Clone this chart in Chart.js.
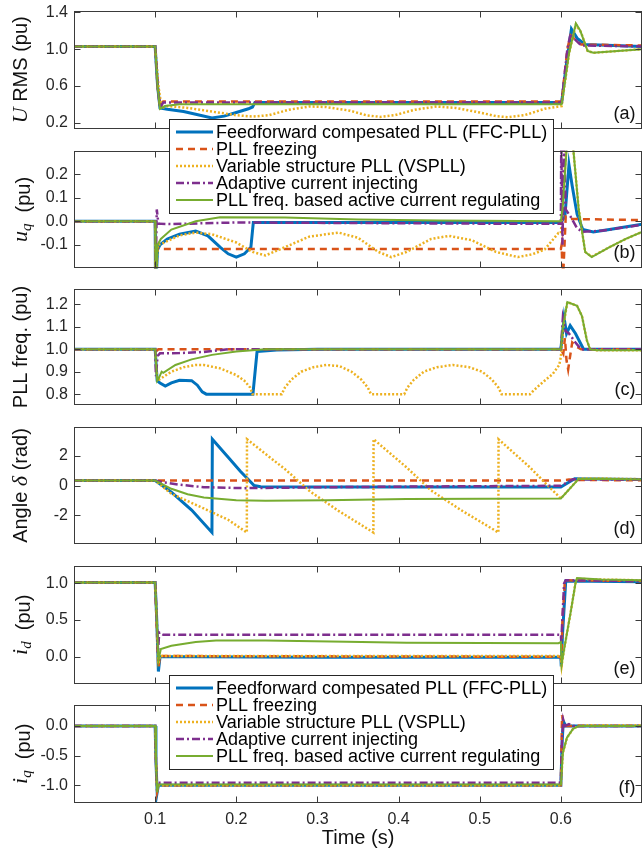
<!DOCTYPE html>
<html>
<head>
<meta charset="utf-8">
<script src="https://cdn.jsdelivr.net/npm/chart.js@4.4.1/dist/chart.umd.min.js"></script>
<style>
html, body { margin: 0; padding: 0; background: #fff; }
#fig { position: relative; width: 643px; height: 852px; overflow: hidden; background: #fff; }
#fig canvas { position: absolute; left: 0; }
</style>
</head>
<body>
<div id="fig"></div>
<script>
// ---- data: [time (s), value] ----
const seriesNames = ['Feedforward compesated PLL (FFC-PLL)', 'PLL freezing', 'Variable structure PLL (VSPLL)',
  'Adaptive current injecting', 'PLL freq. based active current regulating'];
const timeTicks = [0.1, 0.2, 0.3, 0.4, 0.5, 0.6];

// (a) U RMS
const rmsFFC = [[0,1.03],[0.1,1.03],[0.103,0.6],[0.106,0.36],[0.115,0.345],[0.135,0.32],[0.15,0.29],[0.17,0.25],[0.185,0.27],[0.2,0.31],[0.215,0.35],[0.22,0.37],[0.223,0.42],[0.601,0.42],[0.607,0.85],[0.613,1.22],[0.62,1.12],[0.63,1.05],[0.7,1.03]];
const rmsFrz = [[0,1.03],[0.1,1.03],[0.103,0.6],[0.106,0.37],[0.11,0.43],[0.601,0.43],[0.608,1.0],[0.612,1.15],[0.618,1.1],[0.625,1.05],[0.7,1.04]];
const rmsVS  = [[0,1.03],[0.1,1.03],[0.104,0.6],[0.108,0.36],[0.115,0.38],[0.14,0.36],[0.17,0.32],[0.2,0.28],[0.22,0.265],[0.24,0.28],[0.265,0.34],[0.29,0.375],[0.31,0.37],[0.34,0.33],[0.36,0.28],[0.377,0.262],[0.395,0.28],[0.42,0.34],[0.447,0.375],[0.47,0.36],[0.5,0.31],[0.52,0.27],[0.535,0.258],[0.555,0.28],[0.58,0.35],[0.601,0.38],[0.61,0.95],[0.6185,1.27],[0.625,1.18],[0.633,0.98],[0.64,0.96],[0.67,0.98],[0.7,1.0]];
const rmsAdp = [[0,1.03],[0.1,1.03],[0.103,0.6],[0.106,0.36],[0.11,0.42],[0.601,0.42],[0.608,1.0],[0.612,1.17],[0.618,1.1],[0.625,1.04],[0.7,1.03]];
const rmsReg = [[0,1.03],[0.1,1.03],[0.103,0.6],[0.106,0.35],[0.112,0.38],[0.13,0.4],[0.601,0.4],[0.61,0.95],[0.6185,1.28],[0.624,1.2],[0.633,0.98],[0.64,0.96],[0.67,0.98],[0.7,1.0]];

// (b) u_q
const uqFFC = [[0,0],[0.1,0],[0.1005,-0.3],[0.103,-0.12],[0.106,-0.1],[0.115,-0.075],[0.13,-0.055],[0.15,-0.042],[0.165,-0.062],[0.18,-0.11],[0.19,-0.138],[0.2,-0.152],[0.21,-0.138],[0.218,-0.11],[0.221,-0.005],[0.6,-0.005],[0.605,0.02],[0.61,0.24],[0.614,0.15],[0.62,0.03],[0.627,-0.035],[0.64,-0.045],[0.66,-0.035],[0.7,-0.012]];
const uqFrz = [[0,0],[0.1,0],[0.1005,-0.25],[0.103,-0.11],[0.106,-0.118],[0.6,-0.118],[0.601,-0.1],[0.6015,-0.16],[0.603,-0.22],[0.6045,-0.1],[0.606,0.02],[0.612,0.01],[0.7,0.005]];
const uqVS  = [[0,0],[0.1,0],[0.1005,-0.3],[0.103,-0.1],[0.1075,-0.096],[0.13,-0.06],[0.15,-0.048],[0.17,-0.055],[0.2,-0.09],[0.22,-0.13],[0.236,-0.145],[0.26,-0.11],[0.29,-0.065],[0.326,-0.048],[0.35,-0.07],[0.375,-0.13],[0.391,-0.152],[0.41,-0.13],[0.44,-0.075],[0.462,-0.062],[0.49,-0.08],[0.52,-0.13],[0.547,-0.152],[0.565,-0.14],[0.58,-0.12],[0.597,-0.05],[0.6,-0.05],[0.603,0.1],[0.608,0.4],[0.613,0.4],[0.6155,0.3],[0.622,0.05],[0.63,-0.13],[0.638,-0.15],[0.66,-0.11],[0.68,-0.075],[0.7,-0.045]];
const uqAdp = [[0,0],[0.1,0],[0.1005,-0.25],[0.102,0.05],[0.104,-0.01],[0.12,-0.012],[0.2,-0.005],[0.5,-0.01],[0.6,-0.01],[0.6005,0.35],[0.602,-0.1],[0.604,0.35],[0.606,0.05],[0.612,0.02],[0.62,-0.03],[0.627,-0.045],[0.65,-0.04],[0.7,-0.015]];
const uqReg = [[0,0],[0.1,0],[0.1005,-0.3],[0.103,-0.1],[0.107,-0.075],[0.12,-0.035],[0.15,0],[0.18,0.017],[0.26,0.016],[0.35,0.008],[0.45,0.003],[0.6,0],[0.602,0.05],[0.609,0.4],[0.613,0.4],[0.6155,0.3],[0.622,0.05],[0.63,-0.13],[0.638,-0.152],[0.66,-0.11],[0.68,-0.075],[0.7,-0.045]];

// (c) PLL frequency
const frqFFC = [[0,1],[0.1,1],[0.1025,0.86],[0.106,0.85],[0.1125,0.836],[0.12,0.85],[0.13,0.862],[0.145,0.86],[0.152,0.84],[0.158,0.81],[0.163,0.8],[0.2205,0.8],[0.2256,0.99],[0.25,0.997],[0.3,1.0],[0.6,1.0],[0.604,1.14],[0.607,1.07],[0.6115,1.105],[0.618,1.07],[0.628,1.0],[0.7,1.0]];
const frqFrz = [[0,1],[0.1,1],[0.101,0.99],[0.104,1.0],[0.6,1.0],[0.603,0.98],[0.605,1.05],[0.607,0.95],[0.609,0.91],[0.611,0.96],[0.614,1.03],[0.62,1.01],[0.625,1.0],[0.7,1.0]];
const frqVS  = [[0,1],[0.1,1],[0.1025,0.87],[0.105,0.865],[0.12,0.9],[0.135,0.92],[0.15,0.93],[0.16,0.93],[0.18,0.915],[0.2,0.885],[0.21,0.86],[0.217,0.83],[0.22,0.8],[0.256,0.8],[0.26,0.83],[0.268,0.865],[0.28,0.9],[0.295,0.92],[0.311,0.93],[0.327,0.925],[0.342,0.9],[0.354,0.865],[0.362,0.83],[0.366,0.8],[0.407,0.8],[0.411,0.83],[0.419,0.865],[0.431,0.9],[0.447,0.92],[0.467,0.93],[0.487,0.92],[0.503,0.9],[0.515,0.865],[0.523,0.83],[0.527,0.8],[0.562,0.8],[0.566,0.815],[0.572,0.835],[0.58,0.86],[0.59,0.89],[0.598,0.93],[0.6,0.966],[0.603,1.1],[0.608,1.21],[0.62,1.193],[0.626,1.148],[0.632,1.04],[0.636,1.0],[0.645,0.995],[0.7,0.995]];
const frqAdp = [[0,1],[0.1,1],[0.101,0.88],[0.103,0.97],[0.106,0.982],[0.13,0.983],[0.16,0.988],[0.19,1.0],[0.6,1.0],[0.6025,1.14],[0.606,1.08],[0.61,1.07],[0.618,1.03],[0.625,1.0],[0.7,1.0]];
const frqReg = [[0,1],[0.1,1],[0.1025,0.86],[0.105,0.875],[0.108,0.9],[0.11,0.895],[0.125,0.93],[0.145,0.955],[0.17,0.975],[0.2,0.99],[0.236,1.0],[0.6,1.0],[0.6025,1.1],[0.608,1.21],[0.62,1.193],[0.626,1.148],[0.632,1.04],[0.636,1.0],[0.645,0.995],[0.7,0.995]];

// (d) angle delta
const angFFC = [[0,0.33],[0.1,0.33],[0.12,-0.44],[0.145,-1.65],[0.17,-3.15],[0.1705,3.1],[0.19,1.9],[0.205,0.95],[0.216,0.33],[0.222,0.0],[0.23,-0.08],[0.3,-0.1],[0.6,-0.1],[0.617,0.45],[0.7,0.4]];
const angFrz = [[0,0.33],[0.6,0.33],[0.61,0.4],[0.62,0.37],[0.7,0.35]];
const angVS  = [[0,0.33],[0.1,0.33],[0.12,-0.55],[0.16,-1.54],[0.19,-2.3],[0.213,-3.15],[0.2132,3.1],[0.261,1.05],[0.291,-0.4],[0.326,-1.7],[0.369,-3.15],[0.3692,3.1],[0.41,1.21],[0.44,-0.33],[0.477,-1.65],[0.523,-3.15],[0.5232,3.1],[0.562,1.21],[0.582,0.1],[0.6,-0.87],[0.622,0.46],[0.65,0.47],[0.7,0.42]];
const angAdp = [[0,0.33],[0.1,0.33],[0.11,0.22],[0.13,0.05],[0.16,-0.11],[0.21,-0.18],[0.3,-0.12],[0.45,-0.06],[0.6,-0.02],[0.615,0.42],[0.7,0.38]];
const angReg = [[0,0.33],[0.1,0.33],[0.12,-0.22],[0.14,-0.59],[0.16,-0.81],[0.2,-0.99],[0.236,-1.03],[0.311,-0.99],[0.41,-0.9],[0.6,-0.87],[0.622,0.44],[0.65,0.45],[0.7,0.4]];

// (e) i_d
const idFFC = [[0,1.01],[0.1,1.01],[0.102,0.5],[0.104,-0.2],[0.106,0.0],[0.15,0.0],[0.3,-0.005],[0.6,-0.005],[0.6005,-0.13],[0.602,0.3],[0.606,1.03],[0.7,1.02]];
const idFrz = [[0,1.01],[0.1,1.01],[0.102,0.4],[0.104,-0.15],[0.106,0.01],[0.6,0.0],[0.6005,-0.1],[0.602,0.5],[0.605,1.04],[0.7,1.03]];
const idVS  = [[0,1.01],[0.1,1.01],[0.102,0.5],[0.104,-0.1],[0.106,0.01],[0.6,0.01],[0.601,-0.12],[0.604,0.1],[0.612,0.6],[0.618,1.0],[0.62,1.06],[0.65,1.05],[0.7,1.04]];
const idAdp = [[0,1.01],[0.1,1.01],[0.102,0.5],[0.1035,0.05],[0.105,0.33],[0.11,0.3],[0.6,0.3],[0.6005,0.2],[0.604,1.0],[0.606,1.04],[0.7,1.03]];
const idReg = [[0,1.01],[0.1,1.01],[0.102,0.5],[0.104,-0.05],[0.107,0.107],[0.12,0.15],[0.15,0.2],[0.175,0.22],[0.236,0.22],[0.336,0.205],[0.41,0.19],[0.597,0.185],[0.6,0.2],[0.601,-0.1],[0.604,0.1],[0.612,0.6],[0.618,1.0],[0.62,1.07],[0.65,1.05],[0.7,1.04]];

// (f) i_q
const iqFFC = [[0,0],[0.1,0],[0.101,-0.6],[0.1025,-1.12],[0.104,-1.0],[0.6,-1.0],[0.6015,-0.3],[0.603,0.08],[0.606,0.0],[0.7,0.0]];
const iqFrz = [[0,0],[0.1,0],[0.101,-0.6],[0.1025,-1.1],[0.104,-1.0],[0.6,-1.0],[0.601,-0.2],[0.6015,0.18],[0.603,0.05],[0.606,0.0],[0.7,0.0]];
const iqVS  = [[0,0],[0.1,0],[0.101,-0.6],[0.1025,-1.1],[0.104,-1.0],[0.6,-1.0],[0.6025,-0.45],[0.6075,-0.2],[0.615,-0.05],[0.6226,0.01],[0.7,0.01]];
const iqAdp = [[0,0],[0.1,0],[0.101,-0.6],[0.1025,-1.1],[0.104,-0.96],[0.6,-0.96],[0.6015,-0.2],[0.603,0.1],[0.605,0.0],[0.61,0.03],[0.615,0.0],[0.7,0.0]];
const iqReg = [[0,0],[0.1,0],[0.101,-0.6],[0.1025,-1.12],[0.104,-0.99],[0.6,-0.99],[0.6025,-0.45],[0.6075,-0.2],[0.615,-0.05],[0.6226,0.0],[0.7,0.0]];

// y tick labels per panel
const ticksRms = [0.2, 0.6, 1.0, 1.4];
const ticksUq  = [-0.1, 0.0, 0.1, 0.2];
const ticksFrq = [0.8, 0.9, 1.0, 1.1, 1.2];
const ticksAng = [-2, 0, 2];
const ticksId  = [0.0, 0.5, 1.0];
const ticksIq  = [-1.0, -0.5, 0.0];

// ---- styling ----
const SANS = '"Liberation Sans", Arial, sans-serif';
const SERIF = '"Liberation Serif", "Times New Roman", serif';
const styles = [
  { borderColor: '#0072BD', borderWidth: 3, borderDash: [] },
  { borderColor: '#D95319', borderWidth: 2.5, borderDash: [7, 5] },
  { borderColor: '#EDB120', borderWidth: 2.5, borderDash: [2, 2] },
  { borderColor: '#7E2F8E', borderWidth: 2.5, borderDash: [8, 3, 2, 3] },
  { borderColor: '#77AC30', borderWidth: 2, borderDash: [] }
];

const sansF = '20px ' + SANS;
const mathF = 'italic 22px ' + SERIF;
const subF = 'italic 15px ' + SERIF;

const panels = [
  { top: 9, bottom: 129, min: 0.13, max: 1.42, ticks: ticksRms, dec: 1, data: [rmsFFC, rmsFrz, rmsVS, rmsAdp, rmsReg], tag: '(a)',
    label: [{ t: 'U', f: mathF }, { t: ' RMS (pu)', f: sansF }], labelX: 27, legend: { x: 169, y: 119, w: 384, h: 94 }, z: 6, end: 216 },
  { top: 149, bottom: 270, min: -0.2, max: 0.3, ticks: ticksUq, dec: 1, data: [uqFFC, uqFrz, uqVS, uqAdp, uqReg], tag: '(b)',
    label: [{ t: 'u', f: mathF, dy: -3 }, { t: 'q', f: subF, dy: 1 }, { t: '  (pu)', f: sansF }], labelX: 30, z: 1 },
  { top: 287, bottom: 407, min: 0.75, max: 1.27, ticks: ticksFrq, dec: 1, data: [frqFFC, frqFrz, frqVS, frqAdp, frqReg], tag: '(c)',
    label: [{ t: 'PLL freq. (pu)', f: sansF }], labelX: 27, z: 2 },
  { top: 425, bottom: 546, min: -3.95, max: 3.95, ticks: ticksAng, dec: 0, data: [angFFC, angFrz, angVS, angAdp, angReg], tag: '(d)',
    label: [{ t: 'Angle ', f: sansF }, { t: 'δ', f: mathF }, { t: ' (rad)', f: sansF }], labelX: 27, z: 3 },
  { top: 564, bottom: 684, min: -0.37, max: 1.24, ticks: ticksId, dec: 1, data: [idFFC, idFrz, idVS, idAdp, idReg], tag: '(e)',
    label: [{ t: 'i', f: mathF, dy: -3 }, { t: 'd', f: subF, dy: 1 }, { t: '  (pu)', f: sansF }], labelX: 30, legend: { x: 169, y: 675, w: 384, h: 94 }, z: 5, end: 771 },
  { top: 703, bottom: 803, min: -1.3, max: 0.36, ticks: ticksIq, dec: 1, data: [iqFFC, iqFrz, iqVS, iqAdp, iqReg], tag: '(f)',
    label: [{ t: 'i', f: mathF, dy: -3 }, { t: 'q', f: subF, dy: 1 }, { t: '  (pu)', f: sansF }], labelX: 30, z: 4, end: 852, xAxis: true }
];

// frame, inward ticks, y label and panel tag
const framePlugin = {
  id: 'frame',
  afterDatasetsDraw(chart, args, o) {
    const { ctx, chartArea: a } = chart;
    const L = Math.round(a.left) + 0.5, R = Math.round(a.right) - 0.5;
    const T = Math.round(a.top) + 0.5, B = Math.round(a.bottom) - 0.5;
    ctx.save();
    ctx.strokeStyle = '#3a3a3a';
    ctx.lineWidth = 1;
    ctx.setLineDash([]);
    ctx.strokeRect(L, T, R - L, B - T);
    ctx.beginPath();
    chart.scales.y.ticks.forEach(t => {
      const y = Math.round(chart.scales.y.getPixelForValue(t.value)) + 0.5;
      ctx.moveTo(L, y); ctx.lineTo(L + 6, y);
      ctx.moveTo(R, y); ctx.lineTo(R - 6, y);
    });
    timeTicks.forEach(v => {
      const x = Math.round(chart.scales.x.getPixelForValue(v)) + 0.5;
      ctx.moveTo(x, T); ctx.lineTo(x, T + 6);
      ctx.moveTo(x, B); ctx.lineTo(x, B - 6);
    });
    ctx.stroke();
    // panel tag
    ctx.fillStyle = '#111';
    ctx.font = '18px ' + SANS;
    ctx.textAlign = 'right';
    ctx.textBaseline = 'middle';
    ctx.fillText(o.tag, R - 6, B - 14);
    // y axis label
    ctx.translate(o.labelX, (a.top + a.bottom) / 2);
    ctx.rotate(-Math.PI / 2);
    ctx.textAlign = 'left';
    ctx.textBaseline = 'alphabetic';
    let w = 0;
    o.label.forEach(p => { ctx.font = p.f; w += ctx.measureText(p.t).width; });
    let x = -w / 2;
    o.label.forEach(p => {
      ctx.font = p.f;
      ctx.fillText(p.t, x, p.dy || 0);
      x += ctx.measureText(p.t).width;
    });
    ctx.restore();
  }
};

const legendPlugin = {
  id: 'legendBox',
  afterDraw(chart, args, o) {
    if (!o.box) return;
    const { ctx } = chart;
    const b = o.box, y0 = b.y - o.offset;
    ctx.save();
    ctx.fillStyle = '#fff';
    ctx.fillRect(b.x, y0, b.w, b.h);
    ctx.strokeStyle = '#262626';
    ctx.lineWidth = 1;
    ctx.strokeRect(b.x + 0.5, y0 + 0.5, b.w, b.h);
    chart.data.datasets.forEach((ds, i) => {
      const y = y0 + 13 + i * 17;
      ctx.strokeStyle = ds.borderColor;
      ctx.lineWidth = ds.borderWidth;
      ctx.setLineDash(ds.borderDash);
      ctx.beginPath();
      ctx.moveTo(b.x + 7, y);
      ctx.lineTo(b.x + 44, y);
      ctx.stroke();
      ctx.setLineDash([]);
      ctx.fillStyle = '#000';
      ctx.font = '18px ' + SANS;
      ctx.textBaseline = 'middle';
      ctx.fillText(ds.label, b.x + 47, y + 1);
    });
    ctx.restore();
  }
};

const fig = document.getElementById('fig');
panels.forEach(p => {
  const top = p.top - 14;
  const end = p.end || (p.bottom + 14);
  const cv = document.createElement('canvas');
  cv.width = 643;
  cv.height = end - top;
  cv.style.top = top + 'px';
  cv.style.zIndex = p.z;
  fig.appendChild(cv);

  new Chart(cv, {
    type: 'line',
    data: {
      datasets: p.data.map((d, i) => ({
        label: seriesNames[i],
        data: d.map(([x, y]) => ({ x, y })),
        ...styles[i],
        pointRadius: 0,
        tension: 0,
        fill: false,
        order: 4 - i
      }))
    },
    options: {
      responsive: false,
      maintainAspectRatio: false,
      animation: false,
      devicePixelRatio: 1,
      events: [],
      layout: { padding: { left: 0, right: 1, top: p.top - top, bottom: p.xAxis ? 0 : end - p.bottom } },
      scales: {
        x: {
          type: 'linear', min: 0, max: 0.7,
          display: !!p.xAxis,
          afterBuildTicks: s => { s.ticks = timeTicks.map(v => ({ value: v })); },
          afterFit: s => { if (p.xAxis) s.height = 49; },
          grid: { display: false, drawTicks: false },
          border: { display: false },
          ticks: { padding: 7, autoSkip: false, maxRotation: 0, color: '#262626',
            font: { family: SANS, size: 16 }, callback: v => v.toFixed(1) },
          title: { display: true, text: 'Time (s)', color: '#111', font: { family: SANS, size: 20 }, padding: { top: 0, bottom: 2 } }
        },
        y: {
          min: p.min, max: p.max,
          afterBuildTicks: s => { s.ticks = p.ticks.map(v => ({ value: v })); },
          afterFit: s => { s.width = 74; },
          grid: { display: false, drawTicks: false },
          border: { display: false },
          ticks: { padding: 6, autoSkip: false, color: '#262626', font: { family: SANS, size: 16 },
            callback: v => v.toFixed(p.dec) }
        }
      },
      plugins: {
        legend: { display: false },
        tooltip: { enabled: false },
        frame: { tag: p.tag, label: p.label, labelX: p.labelX },
        legendBox: { box: p.legend || null, offset: top }
      }
    },
    plugins: [framePlugin, legendPlugin]
  });
});
</script>
</body>
</html>
